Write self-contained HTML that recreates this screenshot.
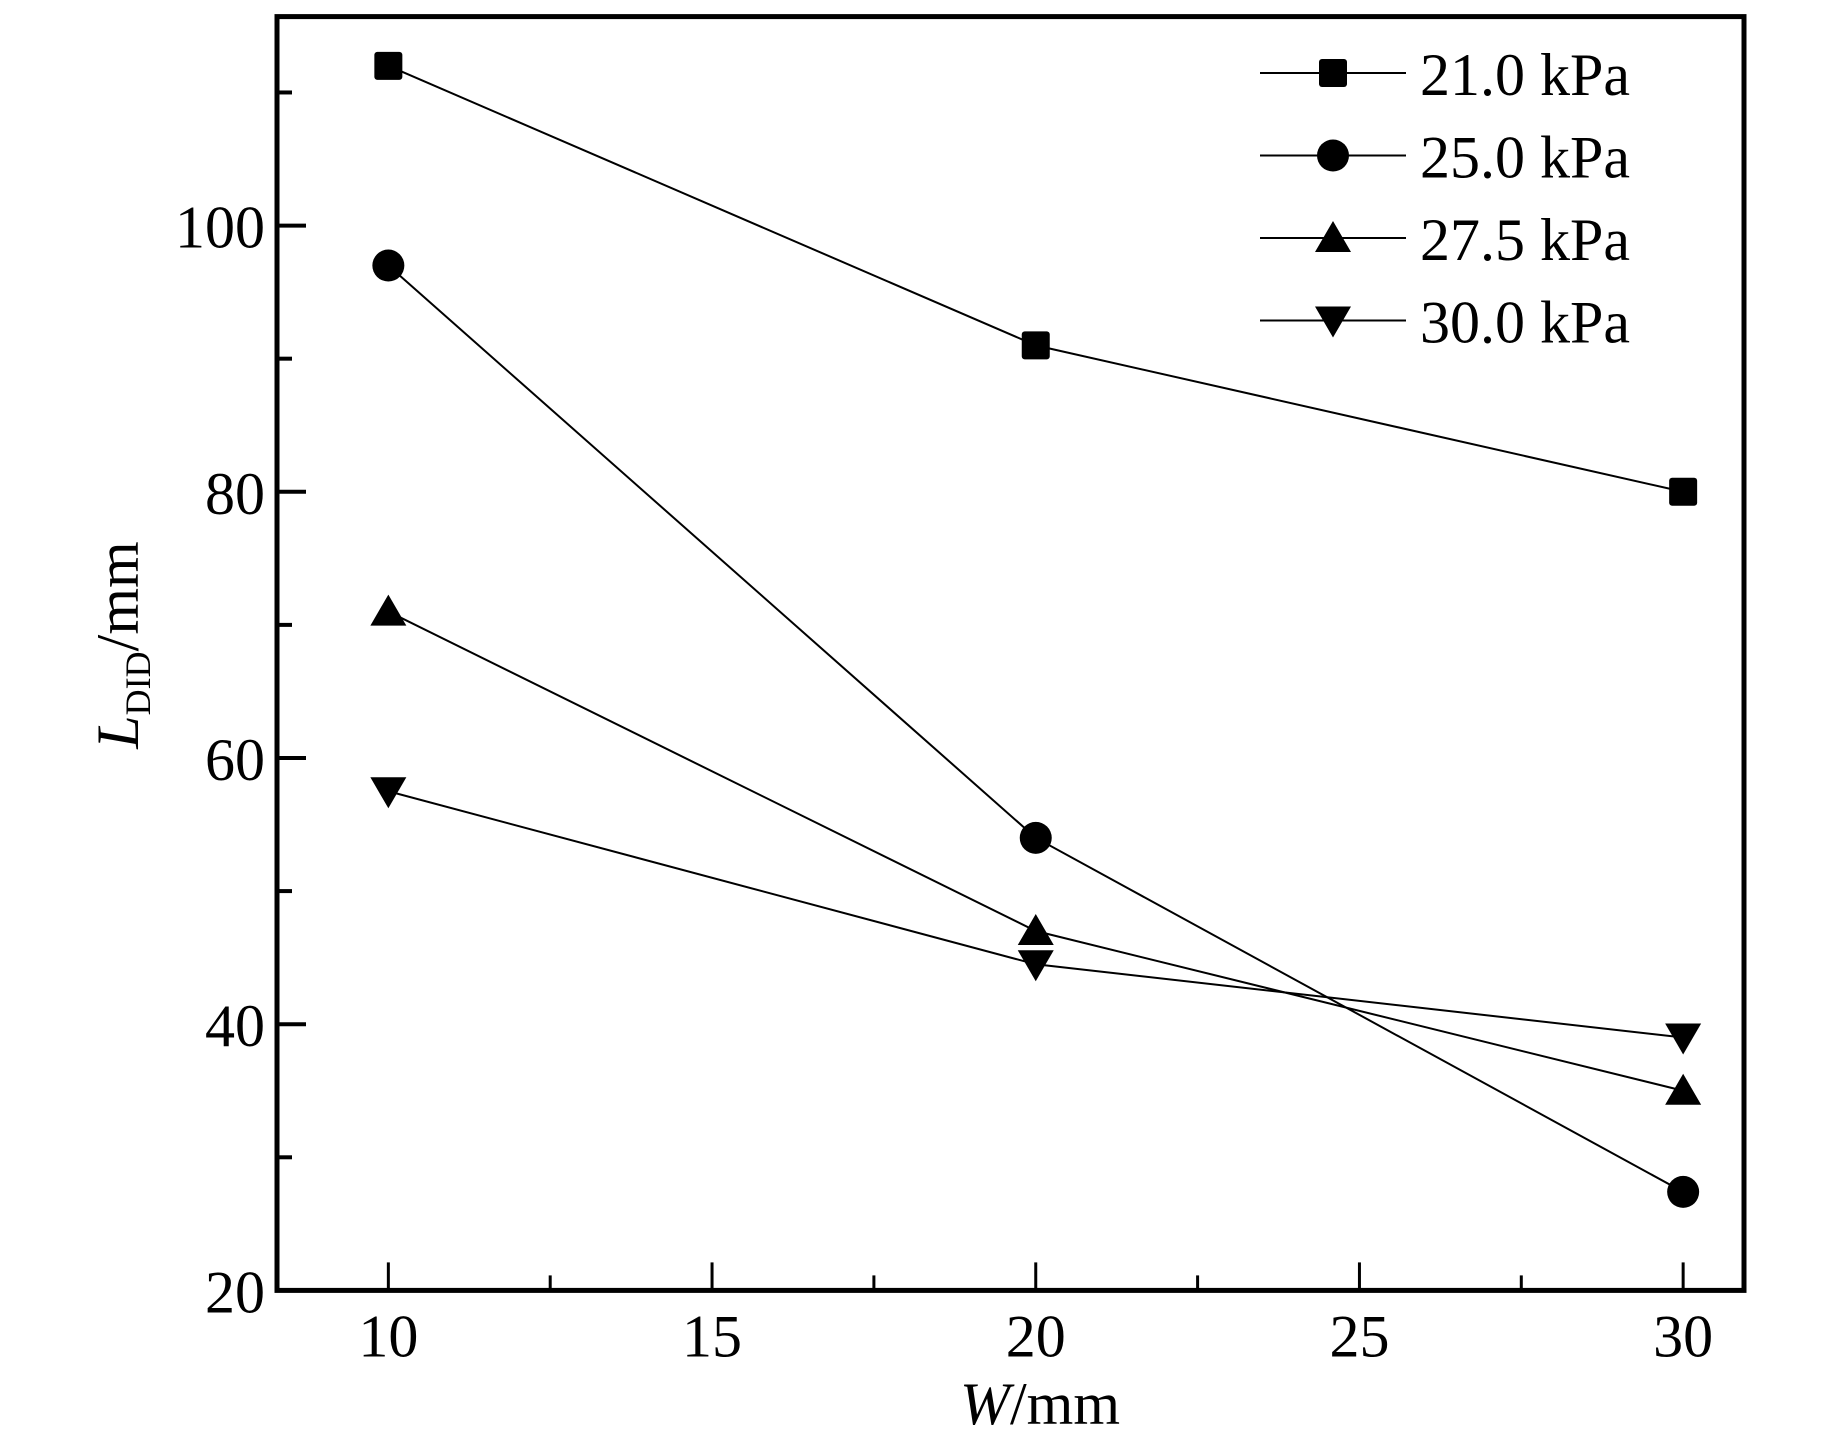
<!DOCTYPE html>
<html><head><meta charset="utf-8"><style>
html,body{margin:0;padding:0;background:#fff;}
svg{display:block;font-family:"Liberation Serif",serif;}
</style></head><body>
<svg id="chart" width="1835" height="1429" viewBox="0 0 1835 1429" xmlns="http://www.w3.org/2000/svg">
<g id="plot"></g>
</svg>
<script>
const categories = [10, 20, 30];
const seriesNames = ["21.0 kPa", "25.0 kPa", "27.5 kPa", "30.0 kPa"];
const s21 = [112, 91, 80];
const s25 = [97, 54, 27.4];
const s275 = [71, 47, 35];
const s30 = [57.5, 44.5, 39];
const xTicks = [10, 15, 20, 25, 30];
const xMinor = [12.5, 17.5, 22.5, 27.5];
const yTicks = [20, 40, 60, 80, 100];
const yMinor = [30, 50, 70, 90, 110];

const L = 277, R = 1744, T = 16.6, B = 1290.4;
const xMin = 8.28, xMax = 30.94, yMin = 20, yMax = 115.7;
function xs(v){ return L + (v - xMin) / (xMax - xMin) * (R - L); }
function ys(v){ return B - (v - yMin) / (yMax - yMin) * (B - T); }
const NS = "http://www.w3.org/2000/svg";
const g = document.getElementById('plot');
function mk(tag, attrs, parent){
  const e = document.createElementNS(NS, tag);
  for (const k in attrs) e.setAttribute(k, attrs[k]);
  (parent || g).appendChild(e);
  return e;
}
const frame = mk('rect', {x:L, y:T, width:R-L, height:B-T, fill:'none', stroke:'#000', 'stroke-width':5});


xTicks.forEach(v => {
  const t = mk('line', {x1:xs(v), x2:xs(v), y1:B, y2:B-28, stroke:'#000', 'stroke-width':3});
  
  
  const lb = mk('text', {x:xs(v), y:B+66, 'font-size':60, 'text-anchor':'middle'});
  lb.textContent = v;
  
  
});
xMinor.forEach(v => {
  const t = mk('line', {x1:xs(v), x2:xs(v), y1:B, y2:B-15, stroke:'#000', 'stroke-width':3});
  
  
});
yTicks.forEach(v => {
  const t = mk('line', {x1:L, x2:L+29, y1:ys(v), y2:ys(v), stroke:'#000', 'stroke-width':4});
  
  
  const lb = mk('text', {x:L-12, y:ys(v)+22, 'font-size':60, 'text-anchor':'end'});
  lb.textContent = v;
  
  
});
yMinor.forEach(v => {
  const t = mk('line', {x1:L, x2:L+15, y1:ys(v), y2:ys(v), stroke:'#000', 'stroke-width':4});
  
  
});
function marker(kind, cx, cy, parent){
  let e;
  if (kind === 'square') e = mk('rect', {x:cx-14, y:cy-14, width:28, height:28, rx:3, fill:'#000'}, parent);
  else if (kind === 'circle') e = mk('circle', {cx:cx, cy:cy, r:16, fill:'#000'}, parent);
  else if (kind === 'up') e = mk('polygon', {points:`${cx},${cy-17} ${cx+18},${cy+14} ${cx-18},${cy+14}`, fill:'#000'}, parent);
  else e = mk('polygon', {points:`${cx},${cy+17} ${cx+18},${cy-14} ${cx-18},${cy-14}`, fill:'#000'}, parent);
  return e;
}
const allSeries = [s21, s25, s275, s30];
const kinds = ['square', 'circle', 'up', 'down'];
const ids = ['21-0', '25-0', '27-5', '30-0'];
allSeries.forEach((s, i) => {
  const sg = mk('g', {});
  
  
  const pts = s.map((v, j) => xs(categories[j]) + ',' + ys(v)).join(' ');
  const pl = mk('polyline', {points:pts, fill:'none', stroke:'#000', 'stroke-width':2}, sg);
  
  
  s.forEach((v, j) => {
    const m = marker(kinds[i], xs(categories[j]), ys(v), sg);
    
    
  });
  const ly = 73 + i * 82.5;
  const lg = mk('g', {});
  
  
  mk('line', {x1:1260, x2:1406, y1:ly, y2:ly, stroke:'#000', 'stroke-width':2}, lg);
  marker(kinds[i], 1333, ly, lg);
  const lt = mk('text', {x:1420, y:ly+22, 'font-size':60}, lg);
  lt.textContent = seriesNames[i];
});
const xt = mk('text', {x:1040, y:1424, 'font-size':60, 'text-anchor':'middle'});


xt.innerHTML = '<tspan font-style="italic">W</tspan>/mm';
const yt = mk('text', {x:0, y:0, 'font-size':60, 'text-anchor':'middle', transform:'translate(138,645) rotate(-90)'});


yt.innerHTML = '<tspan font-style="italic">L</tspan><tspan font-size="36" dy="12">DID</tspan><tspan dy="-12">/mm</tspan>';
</script>
</body></html>
